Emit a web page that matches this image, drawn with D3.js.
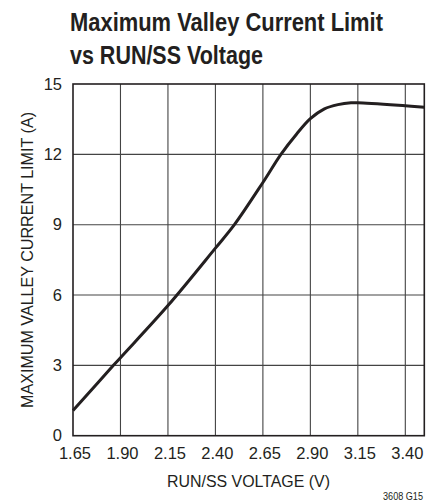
<!DOCTYPE html>
<html><head><meta charset="utf-8">
<script src="https://d3js.org/d3.v7.min.js"></script>
<style>
body{margin:0;background:#fff;}
text{font-family:"Liberation Sans","Arial",sans-serif;fill:#231f20;}
</style></head>
<body><svg id="c" width="442" height="502"></svg>
<script>
const voltage = [1.65, 1.863, 2.15, 2.40, 2.50, 2.65, 2.745, 2.828, 2.90, 2.974, 3.045, 3.114, 3.15, 3.40, 3.50];
const current = [1.07, 3.0, 5.55, 8.0, 9.0, 10.8, 12.0, 12.87, 13.52, 13.94, 14.12, 14.2, 14.2, 14.07, 14.01];
const xTicks = [1.65, 1.90, 2.15, 2.40, 2.65, 2.90, 3.15, 3.40];
const yTicks = [0, 3, 6, 9, 12, 15];
const title = ["Maximum Valley Current Limit", "vs RUN/SS Voltage"];
const xLabel = "RUN/SS VOLTAGE (V)";
const yLabel = "MAXIMUM VALLEY CURRENT LIMIT (A)";
const note = "3608 G15";

const svg = d3.select("#c");
const L = 73, R = 424.3, T = 84, B = 435.7;
const x = d3.scaleLinear().domain([1.65, 3.5]).range([L, R]);
const y = d3.scaleLinear().domain([0, 15]).range([B, T]);

// title
const tw = [313, 193];
svg.append("g").selectAll("text").data(title).join("text")
  .attr("x", 70).attr("y", (d, i) => 30.5 + i * 33)
  .attr("font-size", 25).attr("font-weight", "bold")
  .attr("textLength", (d, i) => tw[i]).attr("lengthAdjust", "spacingAndGlyphs")
  .text(d => d);

// grid
const g = svg.append("g");
g.selectAll("line.v").data(xTicks.slice(1)).join("line")
  .attr("x1", d => x(d)).attr("x2", d => x(d)).attr("y1", T).attr("y2", B)
  .attr("stroke", "#444").attr("stroke-width", 1.1);
g.selectAll("line.h").data(yTicks.slice(1, -1)).join("line")
  .attr("x1", L).attr("x2", R).attr("y1", d => y(d)).attr("y2", d => y(d))
  .attr("stroke", "#444").attr("stroke-width", 1.1);

// frame
svg.append("rect").attr("x", L).attr("y", T).attr("width", R - L).attr("height", B - T)
  .attr("fill", "none").attr("stroke", "#231f20").attr("stroke-width", 1.6);

// axes
const xa = svg.append("g").attr("transform", `translate(0,${B})`)
  .call(d3.axisBottom(x).tickValues(xTicks).tickFormat(d3.format(".2f")).tickSize(0).tickPadding(11.5));
xa.select(".domain").remove();
xa.selectAll("text").attr("font-size", 16.5).attr("font-family", null).attr("fill", "#231f20").attr("dx", 1.5);

const ya = svg.append("g").attr("transform", `translate(${L},0)`)
  .call(d3.axisLeft(y).tickValues(yTicks).tickFormat(d3.format("d")).tickSize(0).tickPadding(11));
ya.select(".domain").remove();
ya.selectAll("text").attr("font-size", 16.5).attr("font-family", null).attr("fill", "#231f20");

svg.append("text").attr("x", 248.5).attr("y", 487).attr("text-anchor", "middle")
  .attr("font-size", 16).attr("textLength", 163).attr("lengthAdjust", "spacingAndGlyphs").text(xLabel);
svg.append("text").attr("transform", `translate(33,260) rotate(-90)`)
  .attr("text-anchor", "middle").attr("font-size", 16)
  .attr("textLength", 296).attr("lengthAdjust", "spacingAndGlyphs").text(yLabel);
svg.append("text").attr("x", 423).attr("y", 500).attr("text-anchor", "end")
  .attr("font-size", 10).attr("textLength", 40).attr("lengthAdjust", "spacingAndGlyphs").text(note);

// curve
const pts = voltage.map((v, i) => [v, current[i]]);
svg.append("path").datum(pts)
  .attr("d", d3.line().x(d => x(d[0])).y(d => y(d[1])).curve(d3.curveCatmullRom.alpha(0.5)))
  .attr("fill", "none").attr("stroke", "#231f20").attr("stroke-width", 3);
</script></body></html>
